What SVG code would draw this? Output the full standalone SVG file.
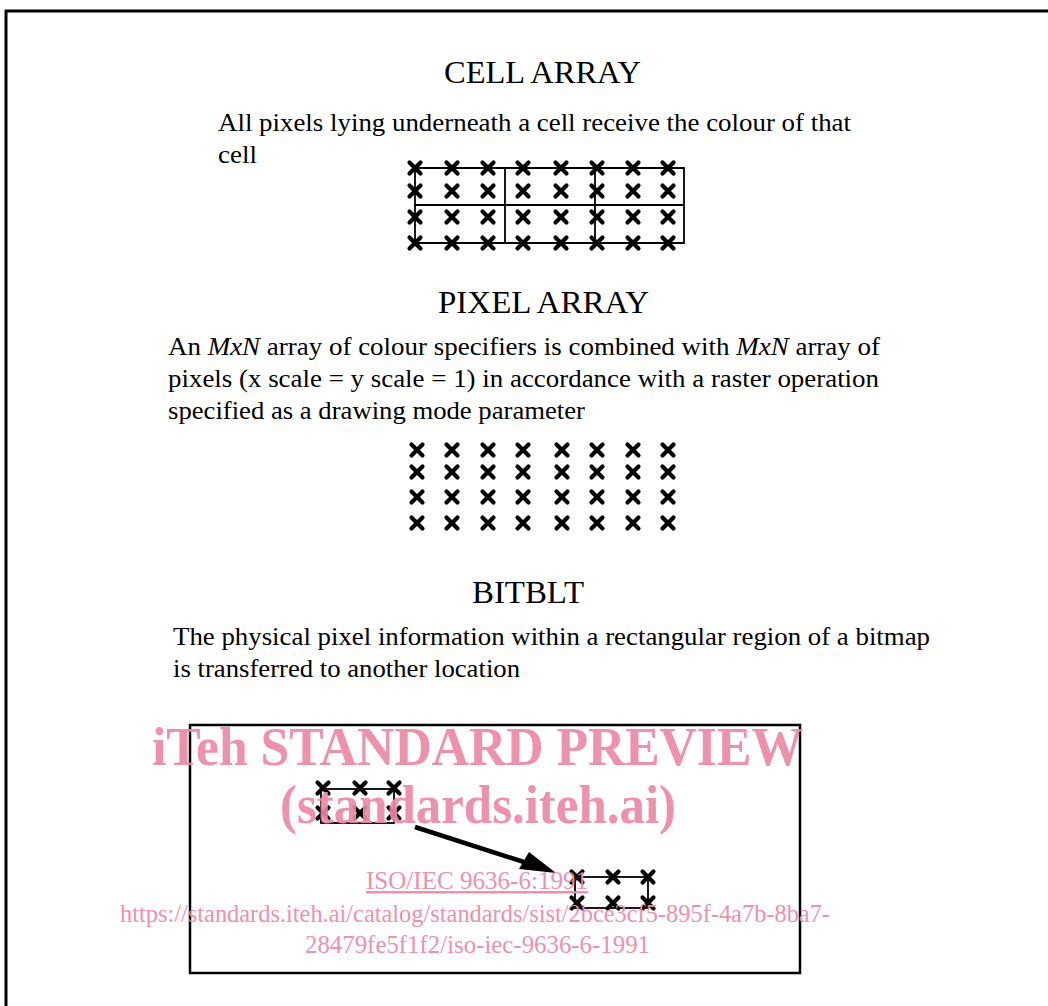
<svg xmlns="http://www.w3.org/2000/svg" xmlns:xlink="http://www.w3.org/1999/xlink" width="1048" height="1006" viewBox="0 0 1048 1006">
<style>
.t{font-family:"Liberation Serif","Times New Roman",serif;fill:#000}
.title{font-size:31px}
.body{font-size:26px}
.ln{stroke:#000;fill:none}
.wm{font-family:"Liberation Serif","Times New Roman",serif;fill:#ec88a5}
</style>
<defs>
<g id="x"><path d="M-5.5,-5.5 L5.5,5.5 M5.5,-5.5 L-5.5,5.5" stroke="#000" stroke-width="4.2" stroke-linecap="round"/></g>
</defs>
<rect width="1048" height="1006" fill="#fff"/>
<g id="frame">
<path class="ln" d="M5,11 H1048 M6,10 V1006" stroke-width="3"/>
</g>
<g id="cell-array">
<text class="t title" x="444" y="83" textLength="197" lengthAdjust="spacingAndGlyphs">CELL ARRAY</text>
<text class="t body" x="218" y="131" textLength="633" lengthAdjust="spacingAndGlyphs">All pixels lying underneath a cell receive the colour of that</text>
<text class="t body" x="218" y="163" textLength="39" lengthAdjust="spacingAndGlyphs">cell</text>
<g id="cell-grid">
<path class="ln" d="M415,168 H684 V243 H415 Z M415,205 H684 M505,168 V243 M595,168 V243" stroke-width="1.8"/>
<use xlink:href="#x" x="415" y="168"/><use xlink:href="#x" x="452" y="168"/><use xlink:href="#x" x="488" y="168"/><use xlink:href="#x" x="523" y="168"/><use xlink:href="#x" x="561" y="168"/><use xlink:href="#x" x="597" y="168"/><use xlink:href="#x" x="633" y="168"/><use xlink:href="#x" x="668" y="168"/>
<use xlink:href="#x" x="415" y="191"/><use xlink:href="#x" x="452" y="191"/><use xlink:href="#x" x="488" y="191"/><use xlink:href="#x" x="523" y="191"/><use xlink:href="#x" x="561" y="191"/><use xlink:href="#x" x="597" y="191"/><use xlink:href="#x" x="633" y="191"/><use xlink:href="#x" x="668" y="191"/>
<use xlink:href="#x" x="415" y="217"/><use xlink:href="#x" x="452" y="217"/><use xlink:href="#x" x="488" y="217"/><use xlink:href="#x" x="523" y="217"/><use xlink:href="#x" x="561" y="217"/><use xlink:href="#x" x="597" y="217"/><use xlink:href="#x" x="633" y="217"/><use xlink:href="#x" x="668" y="217"/>
<use xlink:href="#x" x="415" y="243"/><use xlink:href="#x" x="452" y="243"/><use xlink:href="#x" x="488" y="243"/><use xlink:href="#x" x="523" y="243"/><use xlink:href="#x" x="561" y="243"/><use xlink:href="#x" x="597" y="243"/><use xlink:href="#x" x="633" y="243"/><use xlink:href="#x" x="668" y="243"/>
</g>
</g>
<g id="pixel-array">
<text class="t title" x="438" y="313" textLength="211" lengthAdjust="spacingAndGlyphs">PIXEL ARRAY</text>
<text class="t body" x="168" y="355" textLength="712" lengthAdjust="spacingAndGlyphs">An <tspan font-style="italic">MxN</tspan> array of colour specifiers is combined with <tspan font-style="italic">MxN</tspan> array of</text>
<text class="t body" x="168" y="387" textLength="711" lengthAdjust="spacingAndGlyphs">pixels (x scale = y scale = 1) in accordance with a raster operation</text>
<text class="t body" x="168" y="419" textLength="417" lengthAdjust="spacingAndGlyphs">specified as a drawing mode parameter</text>
<g id="pixel-grid">
<use xlink:href="#x" x="417" y="450"/><use xlink:href="#x" x="452" y="450"/><use xlink:href="#x" x="488" y="450"/><use xlink:href="#x" x="523" y="450"/><use xlink:href="#x" x="562" y="450"/><use xlink:href="#x" x="597" y="450"/><use xlink:href="#x" x="633" y="450"/><use xlink:href="#x" x="668" y="450"/>
<use xlink:href="#x" x="417" y="472"/><use xlink:href="#x" x="452" y="472"/><use xlink:href="#x" x="488" y="472"/><use xlink:href="#x" x="523" y="472"/><use xlink:href="#x" x="562" y="472"/><use xlink:href="#x" x="597" y="472"/><use xlink:href="#x" x="633" y="472"/><use xlink:href="#x" x="668" y="472"/>
<use xlink:href="#x" x="417" y="497"/><use xlink:href="#x" x="452" y="497"/><use xlink:href="#x" x="488" y="497"/><use xlink:href="#x" x="523" y="497"/><use xlink:href="#x" x="562" y="497"/><use xlink:href="#x" x="597" y="497"/><use xlink:href="#x" x="633" y="497"/><use xlink:href="#x" x="668" y="497"/>
<use xlink:href="#x" x="417" y="523"/><use xlink:href="#x" x="452" y="523"/><use xlink:href="#x" x="488" y="523"/><use xlink:href="#x" x="523" y="523"/><use xlink:href="#x" x="562" y="523"/><use xlink:href="#x" x="597" y="523"/><use xlink:href="#x" x="633" y="523"/><use xlink:href="#x" x="668" y="523"/>
</g>
</g>
<g id="bitblt">
<text class="t title" x="472" y="603" textLength="112" lengthAdjust="spacingAndGlyphs">BITBLT</text>
<text class="t body" x="173" y="645" textLength="757" lengthAdjust="spacingAndGlyphs">The physical pixel information within a rectangular region of a bitmap</text>
<text class="t body" x="173" y="677" textLength="347" lengthAdjust="spacingAndGlyphs">is transferred to another location</text>
<rect id="bitmap" class="ln" x="190" y="725" width="610" height="248" stroke-width="2.5"/>
<g id="source-region">
<rect class="ln" x="321" y="789" width="73" height="34" stroke-width="1.8"/>
<use xlink:href="#x" x="323" y="788"/><use xlink:href="#x" x="360" y="788"/><use xlink:href="#x" x="394" y="788"/>
<use xlink:href="#x" x="323" y="813"/><use xlink:href="#x" x="360" y="813"/><use xlink:href="#x" x="394" y="813"/>
</g>
<g id="dest-region">
<rect class="ln" x="575" y="877" width="73" height="31" stroke-width="1.8"/>
<use xlink:href="#x" x="577" y="877"/><use xlink:href="#x" x="613" y="877"/><use xlink:href="#x" x="648" y="877"/>
<use xlink:href="#x" x="577" y="903"/><use xlink:href="#x" x="613" y="903"/><use xlink:href="#x" x="648" y="903"/>
</g>
</g>
<g id="connectors">
<line x1="415" y1="827" x2="530" y2="864" stroke="#000" stroke-width="4.5"/>
<path d="M556,873 L519,869 L529,852 Z" fill="#000"/>
</g>
<g id="watermark" opacity="0.92">
<text class="wm" x="152" y="765" font-size="54" font-weight="bold" textLength="651" lengthAdjust="spacingAndGlyphs">iTeh STANDARD PREVIEW</text>
<text class="wm" x="280" y="823" font-size="54" font-weight="bold" textLength="396" lengthAdjust="spacingAndGlyphs">(standards.iteh.ai)</text>
<text class="wm" x="366" y="889" font-size="25" textLength="222" lengthAdjust="spacingAndGlyphs" text-decoration="underline">ISO/IEC 9636-6:1991</text>
<text class="wm" x="120" y="922" font-size="25" textLength="710" lengthAdjust="spacingAndGlyphs">https://standards.iteh.ai/catalog/standards/sist/2bce3cf5-895f-4a7b-8ba7-</text>
<text class="wm" x="305" y="953" font-size="25" textLength="345" lengthAdjust="spacingAndGlyphs">28479fe5f1f2/iso-iec-9636-6-1991</text>
</g>
</svg>
